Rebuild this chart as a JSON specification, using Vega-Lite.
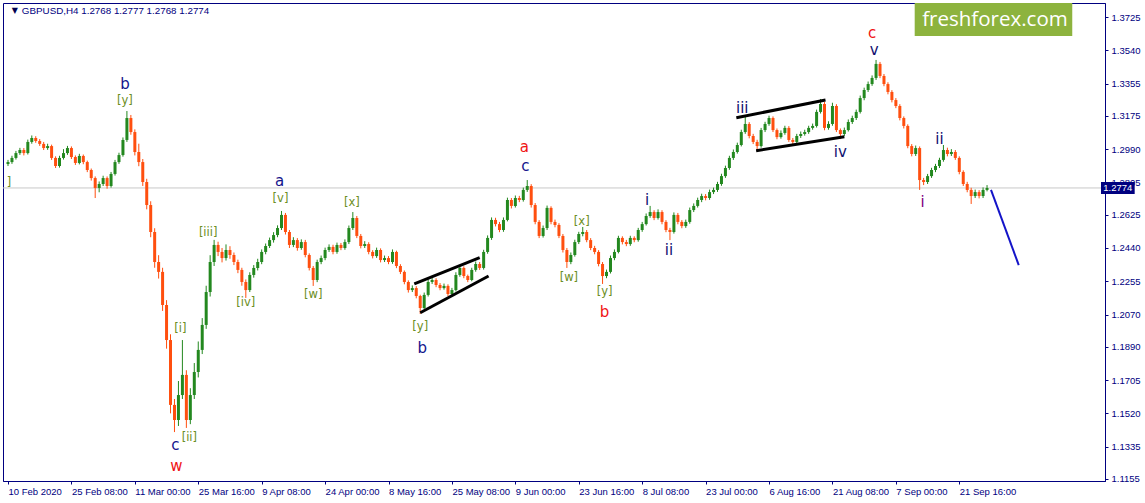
{
"$schema":"https://vega.github.io/schema/vega-lite/v6.json",
"width":1102,"height":478,
"autosize":{"type":"none"},
"padding":{"left":3,"top":3,"right":40,"bottom":22},
"background":"white",
"config":{"view":{"stroke":"#000080","strokeWidth":1},
"axis":{"grid":false,"labelFont":"Liberation Sans","labelFontSize":9.5,"labelColor":"#000080","tickColor":"#000080","domainColor":"#000080","tickSize":3,"labelPadding":2}},
"datasets":{
"c":[
{"t":0,"o":1.2907,"h":1.2930,"l":1.2896,"c":1.2918},
{"t":4,"o":1.2918,"h":1.2953,"l":1.2908,"c":1.2941},
{"t":8,"o":1.2941,"h":1.2980,"l":1.2932,"c":1.2968},
{"t":12,"o":1.2968,"h":1.2997,"l":1.2958,"c":1.2985},
{"t":16,"o":1.2985,"h":1.2996,"l":1.2955,"c":1.2968},
{"t":20,"o":1.2968,"h":1.3043,"l":1.2960,"c":1.3030},
{"t":24,"o":1.3030,"h":1.3066,"l":1.3020,"c":1.3052},
{"t":28,"o":1.3052,"h":1.3062,"l":1.3025,"c":1.3035},
{"t":32,"o":1.3035,"h":1.3046,"l":1.3008,"c":1.3019},
{"t":36,"o":1.3019,"h":1.3030,"l":1.2985,"c":1.2996},
{"t":40,"o":1.2996,"h":1.3020,"l":1.2986,"c":1.3007},
{"t":44,"o":1.3007,"h":1.3015,"l":1.2930,"c":1.2941},
{"t":48,"o":1.2941,"h":1.2950,"l":1.2885,"c":1.2896},
{"t":52,"o":1.2896,"h":1.2953,"l":1.2887,"c":1.2941},
{"t":56,"o":1.2941,"h":1.2990,"l":1.2932,"c":1.2968},
{"t":60,"o":1.2968,"h":1.3008,"l":1.2958,"c":1.2996},
{"t":64,"o":1.2996,"h":1.3005,"l":1.2935,"c":1.2946},
{"t":68,"o":1.2946,"h":1.2955,"l":1.2902,"c":1.2913},
{"t":72,"o":1.2913,"h":1.2964,"l":1.2905,"c":1.2952},
{"t":76,"o":1.2952,"h":1.2960,"l":1.2906,"c":1.2918},
{"t":80,"o":1.2918,"h":1.2926,"l":1.2862,"c":1.2874},
{"t":84,"o":1.2874,"h":1.2882,"l":1.2815,"c":1.2829},
{"t":88,"o":1.2829,"h":1.2838,"l":1.2718,"c":1.2774},
{"t":92,"o":1.2774,"h":1.2810,"l":1.2750,"c":1.2796},
{"t":96,"o":1.2796,"h":1.2842,"l":1.2785,"c":1.2829},
{"t":100,"o":1.2829,"h":1.2838,"l":1.2770,"c":1.2785},
{"t":104,"o":1.2785,"h":1.2863,"l":1.2776,"c":1.2852},
{"t":108,"o":1.2852,"h":1.2930,"l":1.2843,"c":1.2918},
{"t":112,"o":1.2918,"h":1.2970,"l":1.2908,"c":1.2957},
{"t":116,"o":1.2957,"h":1.3055,"l":1.2948,"c":1.3041},
{"t":120,"o":1.3041,"h":1.3202,"l":1.3030,"c":1.3163},
{"t":124,"o":1.3163,"h":1.3180,"l":1.3070,"c":1.3085},
{"t":128,"o":1.3085,"h":1.3100,"l":1.2955,"c":1.2974},
{"t":132,"o":1.2974,"h":1.3020,"l":1.2895,"c":1.2918},
{"t":136,"o":1.2918,"h":1.2935,"l":1.2785,"c":1.2807},
{"t":140,"o":1.2807,"h":1.2825,"l":1.2655,"c":1.2679},
{"t":144,"o":1.2679,"h":1.2700,"l":1.2500,"c":1.2529},
{"t":148,"o":1.2529,"h":1.2550,"l":1.2330,"c":1.2362},
{"t":152,"o":1.2362,"h":1.2400,"l":1.2270,"c":1.2307},
{"t":156,"o":1.2307,"h":1.2330,"l":1.2090,"c":1.2123},
{"t":160,"o":1.2123,"h":1.2150,"l":1.1880,"c":1.1928},
{"t":164,"o":1.1928,"h":1.1960,"l":1.1520,"c":1.1567},
{"t":168,"o":1.1567,"h":1.1600,"l":1.1416,"c":1.1483},
{"t":172,"o":1.1483,"h":1.1700,"l":1.1450,"c":1.1622},
{"t":176,"o":1.1622,"h":1.1928,"l":1.1600,"c":1.1734},
{"t":180,"o":1.1734,"h":1.1760,"l":1.1439,"c":1.1483},
{"t":184,"o":1.1483,"h":1.1660,"l":1.1460,"c":1.1622},
{"t":188,"o":1.1622,"h":1.1800,"l":1.1600,"c":1.1750},
{"t":192,"o":1.1750,"h":1.1920,"l":1.1720,"c":1.1873},
{"t":196,"o":1.1873,"h":1.2050,"l":1.1850,"c":1.2012},
{"t":200,"o":1.2012,"h":1.2230,"l":1.1990,"c":1.2195},
{"t":204,"o":1.2195,"h":1.2400,"l":1.2170,"c":1.2362},
{"t":208,"o":1.2362,"h":1.2485,"l":1.2340,"c":1.2457},
{"t":212,"o":1.2457,"h":1.2475,"l":1.2395,"c":1.2418},
{"t":216,"o":1.2418,"h":1.2440,"l":1.2360,"c":1.2384},
{"t":220,"o":1.2384,"h":1.2460,"l":1.2370,"c":1.2429},
{"t":224,"o":1.2429,"h":1.2450,"l":1.2380,"c":1.2401},
{"t":228,"o":1.2401,"h":1.2415,"l":1.2345,"c":1.2362},
{"t":232,"o":1.2362,"h":1.2375,"l":1.2300,"c":1.2318},
{"t":236,"o":1.2318,"h":1.2330,"l":1.2230,"c":1.2251},
{"t":240,"o":1.2251,"h":1.2265,"l":1.2162,"c":1.2206},
{"t":244,"o":1.2206,"h":1.2305,"l":1.2195,"c":1.2290},
{"t":248,"o":1.2290,"h":1.2345,"l":1.2275,"c":1.2329},
{"t":252,"o":1.2329,"h":1.2380,"l":1.2315,"c":1.2362},
{"t":256,"o":1.2362,"h":1.2432,"l":1.2350,"c":1.2418},
{"t":260,"o":1.2418,"h":1.2465,"l":1.2405,"c":1.2451},
{"t":264,"o":1.2451,"h":1.2498,"l":1.2440,"c":1.2484},
{"t":268,"o":1.2484,"h":1.2528,"l":1.2470,"c":1.2512},
{"t":272,"o":1.2512,"h":1.2566,"l":1.2500,"c":1.2551},
{"t":276,"o":1.2551,"h":1.2646,"l":1.2540,"c":1.2624},
{"t":280,"o":1.2624,"h":1.2635,"l":1.2515,"c":1.2529},
{"t":284,"o":1.2529,"h":1.2540,"l":1.2440,"c":1.2457},
{"t":288,"o":1.2457,"h":1.2500,"l":1.2445,"c":1.2484},
{"t":292,"o":1.2484,"h":1.2495,"l":1.2425,"c":1.2440},
{"t":296,"o":1.2440,"h":1.2488,"l":1.2430,"c":1.2473},
{"t":300,"o":1.2473,"h":1.2485,"l":1.2388,"c":1.2401},
{"t":304,"o":1.2401,"h":1.2410,"l":1.2315,"c":1.2329},
{"t":308,"o":1.2329,"h":1.2340,"l":1.2229,"c":1.2262},
{"t":312,"o":1.2262,"h":1.2375,"l":1.2250,"c":1.2362},
{"t":316,"o":1.2362,"h":1.2398,"l":1.2350,"c":1.2384},
{"t":320,"o":1.2384,"h":1.2442,"l":1.2372,"c":1.2429},
{"t":324,"o":1.2429,"h":1.2460,"l":1.2418,"c":1.2446},
{"t":328,"o":1.2446,"h":1.2458,"l":1.2405,"c":1.2418},
{"t":332,"o":1.2418,"h":1.2470,"l":1.2408,"c":1.2457},
{"t":336,"o":1.2457,"h":1.2468,"l":1.2428,"c":1.2440},
{"t":340,"o":1.2440,"h":1.2488,"l":1.2430,"c":1.2473},
{"t":344,"o":1.2473,"h":1.2565,"l":1.2462,"c":1.2551},
{"t":348,"o":1.2551,"h":1.2640,"l":1.2540,"c":1.2607},
{"t":352,"o":1.2607,"h":1.2618,"l":1.2495,"c":1.2507},
{"t":356,"o":1.2507,"h":1.2518,"l":1.2438,"c":1.2451},
{"t":360,"o":1.2451,"h":1.2478,"l":1.2440,"c":1.2462},
{"t":364,"o":1.2462,"h":1.2472,"l":1.2405,"c":1.2418},
{"t":368,"o":1.2418,"h":1.2428,"l":1.2382,"c":1.2395},
{"t":372,"o":1.2395,"h":1.2442,"l":1.2385,"c":1.2429},
{"t":376,"o":1.2429,"h":1.2438,"l":1.2360,"c":1.2373},
{"t":380,"o":1.2373,"h":1.2398,"l":1.2362,"c":1.2384},
{"t":384,"o":1.2384,"h":1.2395,"l":1.2350,"c":1.2362},
{"t":388,"o":1.2362,"h":1.2432,"l":1.2352,"c":1.2418},
{"t":392,"o":1.2418,"h":1.2425,"l":1.2328,"c":1.2340},
{"t":396,"o":1.2340,"h":1.2350,"l":1.2295,"c":1.2307},
{"t":400,"o":1.2307,"h":1.2315,"l":1.2238,"c":1.2251},
{"t":404,"o":1.2251,"h":1.2260,"l":1.2192,"c":1.2206},
{"t":408,"o":1.2206,"h":1.2232,"l":1.2195,"c":1.2217},
{"t":412,"o":1.2217,"h":1.2228,"l":1.2160,"c":1.2173},
{"t":416,"o":1.2173,"h":1.2180,"l":1.2073,"c":1.2106},
{"t":420,"o":1.2106,"h":1.2192,"l":1.2098,"c":1.2179},
{"t":424,"o":1.2179,"h":1.2265,"l":1.2170,"c":1.2251},
{"t":428,"o":1.2251,"h":1.2278,"l":1.2240,"c":1.2262},
{"t":432,"o":1.2262,"h":1.2272,"l":1.2222,"c":1.2234},
{"t":436,"o":1.2234,"h":1.2245,"l":1.2205,"c":1.2217},
{"t":440,"o":1.2217,"h":1.2242,"l":1.2208,"c":1.2229},
{"t":444,"o":1.2229,"h":1.2238,"l":1.2172,"c":1.2184},
{"t":448,"o":1.2184,"h":1.2218,"l":1.2175,"c":1.2206},
{"t":452,"o":1.2206,"h":1.2305,"l":1.2198,"c":1.2290},
{"t":456,"o":1.2290,"h":1.2342,"l":1.2280,"c":1.2329},
{"t":460,"o":1.2329,"h":1.2338,"l":1.2272,"c":1.2284},
{"t":464,"o":1.2284,"h":1.2292,"l":1.2250,"c":1.2262},
{"t":468,"o":1.2262,"h":1.2330,"l":1.2255,"c":1.2318},
{"t":472,"o":1.2318,"h":1.2365,"l":1.2308,"c":1.2351},
{"t":476,"o":1.2351,"h":1.2362,"l":1.2318,"c":1.2329},
{"t":480,"o":1.2329,"h":1.2430,"l":1.2320,"c":1.2418},
{"t":484,"o":1.2418,"h":1.2510,"l":1.2408,"c":1.2496},
{"t":488,"o":1.2496,"h":1.2610,"l":1.2485,"c":1.2596},
{"t":492,"o":1.2596,"h":1.2608,"l":1.2560,"c":1.2573},
{"t":496,"o":1.2573,"h":1.2585,"l":1.2528,"c":1.2540},
{"t":500,"o":1.2540,"h":1.2610,"l":1.2530,"c":1.2596},
{"t":504,"o":1.2596,"h":1.2720,"l":1.2588,"c":1.2707},
{"t":508,"o":1.2707,"h":1.2718,"l":1.2660,"c":1.2674},
{"t":512,"o":1.2674,"h":1.2732,"l":1.2665,"c":1.2718},
{"t":516,"o":1.2718,"h":1.2730,"l":1.2695,"c":1.2707},
{"t":520,"o":1.2707,"h":1.2776,"l":1.2698,"c":1.2763},
{"t":524,"o":1.2763,"h":1.2818,"l":1.2752,"c":1.2785},
{"t":528,"o":1.2785,"h":1.2795,"l":1.2665,"c":1.2679},
{"t":532,"o":1.2679,"h":1.2690,"l":1.2572,"c":1.2585},
{"t":536,"o":1.2585,"h":1.2595,"l":1.2495,"c":1.2507},
{"t":540,"o":1.2507,"h":1.2565,"l":1.2498,"c":1.2551},
{"t":544,"o":1.2551,"h":1.2676,"l":1.2540,"c":1.2663},
{"t":548,"o":1.2663,"h":1.2672,"l":1.2572,"c":1.2585},
{"t":552,"o":1.2585,"h":1.2598,"l":1.2555,"c":1.2568},
{"t":556,"o":1.2568,"h":1.2578,"l":1.2495,"c":1.2507},
{"t":560,"o":1.2507,"h":1.2518,"l":1.2415,"c":1.2429},
{"t":564,"o":1.2429,"h":1.2440,"l":1.2329,"c":1.2362},
{"t":568,"o":1.2362,"h":1.2415,"l":1.2350,"c":1.2401},
{"t":572,"o":1.2401,"h":1.2486,"l":1.2392,"c":1.2473},
{"t":576,"o":1.2473,"h":1.2530,"l":1.2462,"c":1.2518},
{"t":580,"o":1.2518,"h":1.2557,"l":1.2505,"c":1.2529},
{"t":584,"o":1.2529,"h":1.2540,"l":1.2472,"c":1.2484},
{"t":588,"o":1.2484,"h":1.2495,"l":1.2428,"c":1.2440},
{"t":592,"o":1.2440,"h":1.2452,"l":1.2405,"c":1.2418},
{"t":596,"o":1.2418,"h":1.2428,"l":1.2338,"c":1.2351},
{"t":600,"o":1.2351,"h":1.2362,"l":1.2240,"c":1.2284},
{"t":604,"o":1.2284,"h":1.2320,"l":1.2272,"c":1.2307},
{"t":608,"o":1.2307,"h":1.2398,"l":1.2298,"c":1.2384},
{"t":612,"o":1.2384,"h":1.2432,"l":1.2372,"c":1.2418},
{"t":616,"o":1.2418,"h":1.2508,"l":1.2410,"c":1.2496},
{"t":620,"o":1.2496,"h":1.2505,"l":1.2460,"c":1.2473},
{"t":624,"o":1.2473,"h":1.2485,"l":1.2450,"c":1.2462},
{"t":628,"o":1.2462,"h":1.2508,"l":1.2452,"c":1.2496},
{"t":632,"o":1.2496,"h":1.2505,"l":1.2472,"c":1.2484},
{"t":636,"o":1.2484,"h":1.2552,"l":1.2475,"c":1.2540},
{"t":640,"o":1.2540,"h":1.2585,"l":1.2530,"c":1.2573},
{"t":644,"o":1.2573,"h":1.2632,"l":1.2565,"c":1.2618},
{"t":648,"o":1.2618,"h":1.2674,"l":1.2608,"c":1.2640},
{"t":652,"o":1.2640,"h":1.2650,"l":1.2595,"c":1.2607},
{"t":656,"o":1.2607,"h":1.2655,"l":1.2598,"c":1.2640},
{"t":660,"o":1.2640,"h":1.2650,"l":1.2572,"c":1.2585},
{"t":664,"o":1.2585,"h":1.2595,"l":1.2528,"c":1.2540},
{"t":668,"o":1.2540,"h":1.2552,"l":1.2484,"c":1.2529},
{"t":672,"o":1.2529,"h":1.2638,"l":1.2520,"c":1.2624},
{"t":676,"o":1.2624,"h":1.2635,"l":1.2572,"c":1.2585},
{"t":680,"o":1.2585,"h":1.2595,"l":1.2550,"c":1.2562},
{"t":684,"o":1.2562,"h":1.2598,"l":1.2552,"c":1.2585},
{"t":688,"o":1.2585,"h":1.2665,"l":1.2575,"c":1.2651},
{"t":692,"o":1.2651,"h":1.2688,"l":1.2640,"c":1.2674},
{"t":696,"o":1.2674,"h":1.2720,"l":1.2665,"c":1.2707},
{"t":700,"o":1.2707,"h":1.2742,"l":1.2695,"c":1.2729},
{"t":704,"o":1.2729,"h":1.2740,"l":1.2705,"c":1.2718},
{"t":708,"o":1.2718,"h":1.2765,"l":1.2708,"c":1.2751},
{"t":712,"o":1.2751,"h":1.2776,"l":1.2740,"c":1.2763},
{"t":716,"o":1.2763,"h":1.2808,"l":1.2752,"c":1.2796},
{"t":720,"o":1.2796,"h":1.2853,"l":1.2786,"c":1.2840},
{"t":724,"o":1.2840,"h":1.2898,"l":1.2830,"c":1.2885},
{"t":728,"o":1.2885,"h":1.2953,"l":1.2875,"c":1.2941},
{"t":732,"o":1.2941,"h":1.2988,"l":1.2930,"c":1.2974},
{"t":736,"o":1.2974,"h":1.3026,"l":1.2965,"c":1.3013},
{"t":740,"o":1.3013,"h":1.3098,"l":1.3005,"c":1.3085},
{"t":744,"o":1.3085,"h":1.3174,"l":1.3075,"c":1.3130},
{"t":748,"o":1.3130,"h":1.3140,"l":1.3050,"c":1.3063},
{"t":752,"o":1.3063,"h":1.3075,"l":1.3018,"c":1.3030},
{"t":756,"o":1.3030,"h":1.3042,"l":1.2980,"c":1.3007},
{"t":760,"o":1.3007,"h":1.3108,"l":1.2998,"c":1.3096},
{"t":764,"o":1.3096,"h":1.3142,"l":1.3085,"c":1.3130},
{"t":768,"o":1.3130,"h":1.3176,"l":1.3120,"c":1.3163},
{"t":772,"o":1.3163,"h":1.3172,"l":1.3085,"c":1.3096},
{"t":776,"o":1.3096,"h":1.3105,"l":1.3045,"c":1.3057},
{"t":780,"o":1.3057,"h":1.3094,"l":1.3048,"c":1.3080},
{"t":784,"o":1.3080,"h":1.3120,"l":1.3070,"c":1.3108},
{"t":788,"o":1.3108,"h":1.3118,"l":1.3030,"c":1.3041},
{"t":792,"o":1.3041,"h":1.3052,"l":1.3018,"c":1.3030},
{"t":796,"o":1.3030,"h":1.3075,"l":1.3022,"c":1.3063},
{"t":800,"o":1.3063,"h":1.3088,"l":1.3052,"c":1.3074},
{"t":804,"o":1.3074,"h":1.3098,"l":1.3065,"c":1.3085},
{"t":808,"o":1.3085,"h":1.3120,"l":1.3075,"c":1.3108},
{"t":812,"o":1.3108,"h":1.3132,"l":1.3098,"c":1.3119},
{"t":816,"o":1.3119,"h":1.3210,"l":1.3110,"c":1.3197},
{"t":820,"o":1.3197,"h":1.3269,"l":1.3188,"c":1.3241},
{"t":824,"o":1.3241,"h":1.3252,"l":1.3095,"c":1.3108},
{"t":828,"o":1.3108,"h":1.3145,"l":1.3098,"c":1.3130},
{"t":832,"o":1.3130,"h":1.3248,"l":1.3120,"c":1.3230},
{"t":836,"o":1.3230,"h":1.3240,"l":1.3085,"c":1.3096},
{"t":840,"o":1.3096,"h":1.3105,"l":1.3046,"c":1.3074},
{"t":844,"o":1.3074,"h":1.3110,"l":1.3062,"c":1.3096},
{"t":848,"o":1.3096,"h":1.3155,"l":1.3088,"c":1.3141},
{"t":852,"o":1.3141,"h":1.3176,"l":1.3130,"c":1.3163},
{"t":856,"o":1.3163,"h":1.3210,"l":1.3152,"c":1.3197},
{"t":860,"o":1.3197,"h":1.3288,"l":1.3188,"c":1.3274},
{"t":864,"o":1.3274,"h":1.3332,"l":1.3262,"c":1.3319},
{"t":868,"o":1.3319,"h":1.3366,"l":1.3308,"c":1.3352},
{"t":872,"o":1.3352,"h":1.3400,"l":1.3342,"c":1.3386},
{"t":876,"o":1.3386,"h":1.3486,"l":1.3375,"c":1.3464},
{"t":880,"o":1.3464,"h":1.3475,"l":1.3385,"c":1.3397},
{"t":884,"o":1.3397,"h":1.3408,"l":1.3340,"c":1.3352},
{"t":888,"o":1.3352,"h":1.3362,"l":1.3295,"c":1.3308},
{"t":892,"o":1.3308,"h":1.3318,"l":1.3250,"c":1.3263},
{"t":896,"o":1.3263,"h":1.3274,"l":1.3218,"c":1.3230},
{"t":900,"o":1.3230,"h":1.3240,"l":1.3150,"c":1.3163},
{"t":904,"o":1.3163,"h":1.3172,"l":1.3105,"c":1.3119},
{"t":908,"o":1.3119,"h":1.3128,"l":1.2995,"c":1.3007},
{"t":912,"o":1.3007,"h":1.3018,"l":1.2950,"c":1.2963},
{"t":916,"o":1.2963,"h":1.3010,"l":1.2952,"c":1.2996},
{"t":920,"o":1.2996,"h":1.3005,"l":1.2763,"c":1.2818},
{"t":924,"o":1.2818,"h":1.2830,"l":1.2790,"c":1.2807},
{"t":928,"o":1.2807,"h":1.2852,"l":1.2796,"c":1.2840},
{"t":932,"o":1.2840,"h":1.2886,"l":1.2830,"c":1.2874},
{"t":936,"o":1.2874,"h":1.2908,"l":1.2862,"c":1.2896},
{"t":940,"o":1.2896,"h":1.2942,"l":1.2885,"c":1.2930},
{"t":944,"o":1.2930,"h":1.3013,"l":1.2920,"c":1.2985},
{"t":948,"o":1.2985,"h":1.2998,"l":1.2950,"c":1.2963},
{"t":952,"o":1.2963,"h":1.2990,"l":1.2952,"c":1.2974},
{"t":956,"o":1.2974,"h":1.2985,"l":1.2930,"c":1.2941},
{"t":960,"o":1.2941,"h":1.2950,"l":1.2850,"c":1.2863},
{"t":964,"o":1.2863,"h":1.2872,"l":1.2785,"c":1.2796},
{"t":968,"o":1.2796,"h":1.2808,"l":1.2750,"c":1.2763},
{"t":972,"o":1.2763,"h":1.2775,"l":1.2685,"c":1.2729},
{"t":976,"o":1.2729,"h":1.2765,"l":1.2718,"c":1.2751},
{"t":980,"o":1.2751,"h":1.2762,"l":1.2716,"c":1.2729},
{"t":984,"o":1.2729,"h":1.2777,"l":1.2718,"c":1.2763},
{"t":988,"o":1.2763,"h":1.2790,"l":1.2755,"c":1.2774}
],
"ann":[
{"t":1,"p":1.2802,"s":"]","g":"M"},
{"t":118,"p":1.3350,"s":"b","g":"B"},
{"t":118,"p":1.3258,"s":"[y]","g":"M"},
{"t":202,"p":1.2523,"s":"[iii]","g":"M"},
{"t":174,"p":1.1989,"s":"[i]","g":"M"},
{"t":183,"p":1.1383,"s":"[ii]","g":"M"},
{"t":169,"p":1.1342,"s":"c","g":"B"},
{"t":170,"p":1.1230,"s":"w","g":"A"},
{"t":240,"p":1.2134,"s":"[iv]","g":"M"},
{"t":274,"p":1.2815,"s":"a","g":"B"},
{"t":275,"p":1.2713,"s":"[v]","g":"M"},
{"t":308,"p":1.2179,"s":"[w]","g":"M"},
{"t":347,"p":1.2690,"s":"[x]","g":"M"},
{"t":416,"p":1.2000,"s":"[y]","g":"M"},
{"t":418,"p":1.1886,"s":"b","g":"B"},
{"t":521,"p":1.3002,"s":"a","g":"A"},
{"t":522,"p":1.2898,"s":"c","g":"B"},
{"t":579,"p":1.2585,"s":"[x]","g":"M"},
{"t":566,"p":1.2273,"s":"[w]","g":"M"},
{"t":602,"p":1.2195,"s":"[y]","g":"M"},
{"t":602,"p":1.2082,"s":"b","g":"A"},
{"t":645,"p":1.2707,"s":"i","g":"R"},
{"t":667,"p":1.2429,"s":"ii","g":"R"},
{"t":741,"p":1.3219,"s":"iii","g":"R"},
{"t":840,"p":1.2974,"s":"iv","g":"R"},
{"t":872,"p":1.3638,"s":"c","g":"A"},
{"t":874,"p":1.3541,"s":"v","g":"R"},
{"t":923,"p":1.2696,"s":"i","g":"P"},
{"t":940,"p":1.3046,"s":"ii","g":"R"}
],
"ln":[
{"k":"ch1u","t":410,"p":1.2240},{"k":"ch1u","t":476,"p":1.2386},
{"k":"ch1l","t":416,"p":1.2080},{"k":"ch1l","t":485,"p":1.2284},
{"k":"ch2u","t":735,"p":1.3165},{"k":"ch2u","t":825,"p":1.3263},
{"k":"ch2l","t":755,"p":1.2981},{"k":"ch2l","t":844,"p":1.3059}
],
"proj":[{"t":992,"p":1.2763},{"t":1020,"p":1.2345}],
"last":[{"p":1.2774,"s":"1.2774","t":1103,"t2":1137,"p1":1.2807,"p2":1.2740,"tm":1120}],
"head":[{"t":14,"p":1.3758,"s":"GBPUSD,H4  1.2768 1.2777 1.2768 1.2774"}],
"tri":[{"t":7,"p":1.3760,"s":"▼"}],
"logo":[{"t":915,"t2":1074,"p":1.38029,"p2":1.3619,"tm":996,"pm":1.3706,"s":"freshforex.com"}]
},
"encoding":{"x":{"field":"t","type":"quantitative","scale":{"domain":[0,1102],"nice":false,"zero":false},
"axis":{"title":null,"values":[0,64,128,192,256,320,384,448,512,576,640,704,768,832,896,960],"labelAlign":"left","labelFlush":false,"labelOverlap":false,"labelBound":false,"labelPadding":2,
"labelExpr":"['10 Feb 2020','25 Feb 08:00','11 Mar 00:00','25 Mar 16:00','9 Apr 08:00','24 Apr 00:00','8 May 16:00','25 May 08:00','9 Jun 00:00','23 Jun 16:00','8 Jul 08:00','23 Jul 00:00','6 Aug 16:00','21 Aug 08:00','7 Sep 00:00','21 Sep 16:00'][round(datum.value/64)]"}}},
"layer":[
{"data":{"name":"last"},"mark":{"type":"rule","color":"#c8c8c8","strokeWidth":1},
"encoding":{"x":null,"y":{"field":"p","type":"quantitative","scale":{"domain":[1.11438,1.38029],"nice":false,"zero":false},"axis":{"orient":"right","title":null,"format":".4f","values":[1.1155,1.1335,1.152,1.1705,1.189,1.207,1.2255,1.244,1.2625,1.2805,1.299,1.3175,1.3355,1.354,1.3725],"labelOverlap":false,"labelPadding":3}}}},
{"data":{"name":"c"},"mark":{"type":"rule","strokeWidth":1},
"encoding":{"y":{"field":"l","type":"quantitative","scale":{"domain":[1.11438,1.38029],"nice":false,"zero":false},"axis":{"orient":"right","title":null,"format":".4f","values":[1.1155,1.1335,1.152,1.1705,1.189,1.207,1.2255,1.244,1.2625,1.2805,1.299,1.3175,1.3355,1.354,1.3725],"labelOverlap":false,"labelPadding":3}},"y2":{"field":"h"},
"color":{"condition":{"test":"datum.c >= datum.o","value":"#23881f"},"value":"#ff4f0f"}}},
{"data":{"name":"c"},"mark":{"type":"bar","size":3},
"encoding":{"y":{"field":"o","type":"quantitative","scale":{"domain":[1.11438,1.38029],"nice":false,"zero":false},"axis":{"orient":"right","title":null,"format":".4f","values":[1.1155,1.1335,1.152,1.1705,1.189,1.207,1.2255,1.244,1.2625,1.2805,1.299,1.3175,1.3355,1.354,1.3725],"labelOverlap":false,"labelPadding":3}},"y2":{"field":"c"},
"color":{"condition":{"test":"datum.c >= datum.o","value":"#23881f"},"value":"#ff4f0f"}}},
{"data":{"name":"ln"},"mark":{"type":"line","color":"#000000","strokeWidth":3},
"encoding":{"detail":{"field":"k"},"y":{"field":"p","type":"quantitative","scale":{"domain":[1.11438,1.38029],"nice":false,"zero":false},"axis":{"orient":"right","title":null,"format":".4f","values":[1.1155,1.1335,1.152,1.1705,1.189,1.207,1.2255,1.244,1.2625,1.2805,1.299,1.3175,1.3355,1.354,1.3725],"labelOverlap":false,"labelPadding":3}}}},
{"data":{"name":"proj"},"mark":{"type":"line","color":"#1414c8","strokeWidth":2},
"encoding":{"y":{"field":"p","type":"quantitative","scale":{"domain":[1.11438,1.38029],"nice":false,"zero":false},"axis":{"orient":"right","title":null,"format":".4f","values":[1.1155,1.1335,1.152,1.1705,1.189,1.207,1.2255,1.244,1.2625,1.2805,1.299,1.3175,1.3355,1.354,1.3725],"labelOverlap":false,"labelPadding":3}}}},
{"data":{"name":"ann"},"transform":[{"filter":"datum.g == 'A' || datum.g == 'B'"}],"mark":{"type":"text","font":"DejaVu Sans","fontSize":15,"baseline":"middle","align":"center"},
"encoding":{"text":{"field":"s"},"color":{"field":"g","type":"nominal","scale":{"domain":["A","B","R","P","M"],"range":["#f01414","#14148c","#101070","#800080","#6b8e23"]},"legend":null},
"y":{"field":"p","type":"quantitative","scale":{"domain":[1.11438,1.38029],"nice":false,"zero":false},"axis":{"orient":"right","title":null,"format":".4f","values":[1.1155,1.1335,1.152,1.1705,1.189,1.207,1.2255,1.244,1.2625,1.2805,1.299,1.3175,1.3355,1.354,1.3725],"labelOverlap":false,"labelPadding":3}}}},
{"data":{"name":"ann"},"transform":[{"filter":"datum.g == 'R' || datum.g == 'P'"}],"mark":{"type":"text","font":"DejaVu Sans","fontSize":15,"baseline":"middle","align":"center"},
"encoding":{"text":{"field":"s"},"color":{"field":"g","type":"nominal","scale":{"domain":["A","B","R","P","M"],"range":["#f01414","#14148c","#101070","#800080","#6b8e23"]},"legend":null},
"y":{"field":"p","type":"quantitative","scale":{"domain":[1.11438,1.38029],"nice":false,"zero":false},"axis":{"orient":"right","title":null,"format":".4f","values":[1.1155,1.1335,1.152,1.1705,1.189,1.207,1.2255,1.244,1.2625,1.2805,1.299,1.3175,1.3355,1.354,1.3725],"labelOverlap":false,"labelPadding":3}}}},
{"data":{"name":"ann"},"transform":[{"filter":"datum.g == 'M'"}],"mark":{"type":"text","font":"DejaVu Sans","fontSize":11.5,"baseline":"middle","align":"center"},
"encoding":{"text":{"field":"s"},"color":{"field":"g","type":"nominal","scale":{"domain":["A","B","R","P","M"],"range":["#f01414","#14148c","#101070","#800080","#6b8e23"]},"legend":null},
"y":{"field":"p","type":"quantitative","scale":{"domain":[1.11438,1.38029],"nice":false,"zero":false},"axis":{"orient":"right","title":null,"format":".4f","values":[1.1155,1.1335,1.152,1.1705,1.189,1.207,1.2255,1.244,1.2625,1.2805,1.299,1.3175,1.3355,1.354,1.3725],"labelOverlap":false,"labelPadding":3}}}},
{"data":{"name":"head"},"mark":{"type":"text","font":"Liberation Sans","fontSize":9.8,"baseline":"middle","align":"left","color":"#000080"},
"encoding":{"text":{"field":"s"},"y":{"field":"p","type":"quantitative","scale":{"domain":[1.11438,1.38029],"nice":false,"zero":false},"axis":{"orient":"right","title":null,"format":".4f","values":[1.1155,1.1335,1.152,1.1705,1.189,1.207,1.2255,1.244,1.2625,1.2805,1.299,1.3175,1.3355,1.354,1.3725],"labelOverlap":false,"labelPadding":3}}}},
{"data":{"name":"tri"},"mark":{"type":"text","font":"DejaVu Sans","fontSize":8,"baseline":"middle","align":"center","color":"#000050"},
"encoding":{"text":{"field":"s"},"y":{"field":"p","type":"quantitative","scale":{"domain":[1.11438,1.38029],"nice":false,"zero":false},"axis":{"orient":"right","title":null,"format":".4f","values":[1.1155,1.1335,1.152,1.1705,1.189,1.207,1.2255,1.244,1.2625,1.2805,1.299,1.3175,1.3355,1.354,1.3725],"labelOverlap":false,"labelPadding":3}}}},
{"data":{"name":"logo"},"mark":{"type":"rect","color":"#8db33e"},
"encoding":{"x2":{"field":"t2"},"y":{"field":"p","type":"quantitative","scale":{"domain":[1.11438,1.38029],"nice":false,"zero":false},"axis":{"orient":"right","title":null,"format":".4f","values":[1.1155,1.1335,1.152,1.1705,1.189,1.207,1.2255,1.244,1.2625,1.2805,1.299,1.3175,1.3355,1.354,1.3725],"labelOverlap":false,"labelPadding":3}},"y2":{"field":"p2"}}},
{"data":{"name":"logo"},"mark":{"type":"text","font":"Open Sans","fontSize":20.5,"baseline":"middle","align":"center","color":"#ffffff"},
"encoding":{"text":{"field":"s"},"x":{"field":"tm","type":"quantitative"},"y":{"field":"pm","type":"quantitative","scale":{"domain":[1.11438,1.38029],"nice":false,"zero":false},"axis":{"orient":"right","title":null,"format":".4f","values":[1.1155,1.1335,1.152,1.1705,1.189,1.207,1.2255,1.244,1.2625,1.2805,1.299,1.3175,1.3355,1.354,1.3725],"labelOverlap":false,"labelPadding":3}}}},
{"data":{"name":"last"},"mark":{"type":"rect","color":"#000080"},
"encoding":{"x2":{"field":"t2"},"y":{"field":"p1","type":"quantitative","scale":{"domain":[1.11438,1.38029],"nice":false,"zero":false},"axis":{"orient":"right","title":null,"format":".4f","values":[1.1155,1.1335,1.152,1.1705,1.189,1.207,1.2255,1.244,1.2625,1.2805,1.299,1.3175,1.3355,1.354,1.3725],"labelOverlap":false,"labelPadding":3}},"y2":{"field":"p2"}}},
{"data":{"name":"last"},"mark":{"type":"text","font":"Liberation Sans","fontSize":9.5,"baseline":"middle","align":"center","color":"#ffffff"},
"encoding":{"text":{"field":"s"},"x":{"field":"tm","type":"quantitative"},"y":{"field":"p","type":"quantitative","scale":{"domain":[1.11438,1.38029],"nice":false,"zero":false},"axis":{"orient":"right","title":null,"format":".4f","values":[1.1155,1.1335,1.152,1.1705,1.189,1.207,1.2255,1.244,1.2625,1.2805,1.299,1.3175,1.3355,1.354,1.3725],"labelOverlap":false,"labelPadding":3}}}}
]
}
